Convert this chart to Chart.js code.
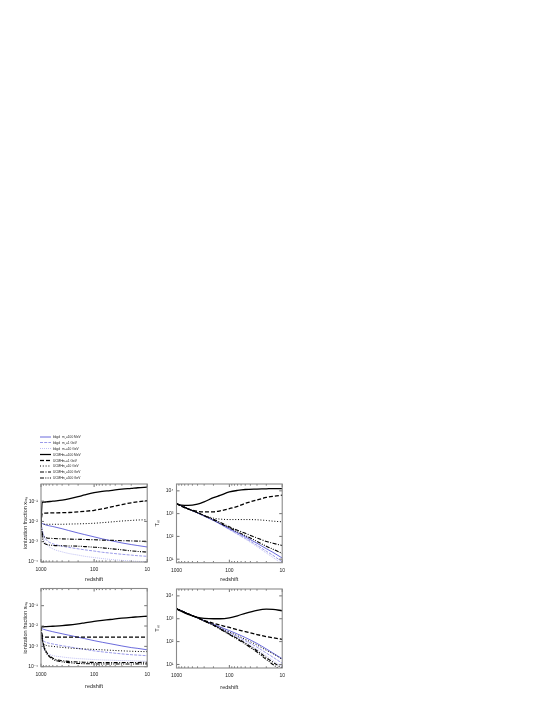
<!DOCTYPE html>
<html lang="en">

<head>
    <meta charset="UTF-8">
    <script src="https://cdn.jsdelivr.net/npm/chart.js"></script>
    <title>Ionization fraction and gas temperature vs redshift</title>
    <style>
        body { margin: 0; width: 545px; height: 705px; background: #fff; position: relative; overflow: hidden;
               font-family: "Liberation Sans", Arial, sans-serif; }
        canvas { position: absolute; }
        /* legend drawn larger then scaled down, so no minimum font size gets in the way */
        #legend { position: absolute; left: 40px; top: 433.5px; font-size: 6.4px; line-height: 11.7px; color: #222;
                  z-index: 2; transform: scale(0.5); transform-origin: 0 0; width: 120px; }
        .row { position: relative; height: 11.7px; white-space: nowrap; }
        .row svg { position: absolute; left: 0; top: 3.8px; }
        .row .who { position: absolute; left: 26px; top: 0; }
        .row .mass { position: absolute; left: 44px; top: 0; }
        .row sub { font-size: 5px; vertical-align: -1.5px; }
    </style>
</head>

<body>
    <canvas id="xionTop"></canvas>
    <canvas id="tmTop"></canvas>
    <canvas id="xionBot"></canvas>
    <canvas id="tmBot"></canvas>
    <div id="legend"></div>

    <script>
        // redshift samples (x axis)
        const redshift = [1000, 950, 900, 800, 600, 400, 300, 200, 150, 100, 70, 50, 30, 20, 15, 10];

        // upper left panel: log10 of ionization fraction
        const xionTopBkgd100MeV = [-2.05, -2.1, -2.13, -2.18, -2.25, -2.36, -2.45, -2.57, -2.65, -2.76, -2.86, -2.94, -3.06, -3.14, -3.19, -3.26];
        const xionTopBkgd1GeV = [-2.05, -2.4, -2.65, -2.9, -3.1, -3.22, -3.28, -3.35, -3.4, -3.46, -3.52, -3.56, -3.62, -3.66, -3.69, -3.72];
        const xionTopBkgd10GeV = [-2.05, -2.5, -2.8, -3.1, -3.35, -3.5, -3.58, -3.66, -3.72, -3.78, -3.83, -3.87, -3.92, -3.95, -3.97, -3.99];
        const xionTopUcmh100MeV = [-2.1, -1.06, -1.05, -1.04, -1.0, -0.95, -0.89, -0.78, -0.69, -0.58, -0.52, -0.48, -0.41, -0.37, -0.34, -0.31];
        const xionTopUcmh1GeV = [-2.1, -1.62, -1.6, -1.59, -1.58, -1.57, -1.56, -1.53, -1.5, -1.45, -1.38, -1.3, -1.17, -1.08, -1.03, -0.97];
        const xionTopUcmh10GeV = [-2.1, -2.12, -2.13, -2.14, -2.14, -2.14, -2.13, -2.12, -2.11, -2.09, -2.06, -2.03, -1.98, -1.95, -1.93, -1.92];
        const xionTopUcmh100GeV = [-2.1, -2.55, -2.72, -2.8, -2.84, -2.86, -2.87, -2.88, -2.89, -2.9, -2.92, -2.93, -2.95, -2.96, -2.97, -2.98];
        const xionTopUcmh500GeV = [-2.1, -2.7, -3.0, -3.12, -3.18, -3.2, -3.21, -3.22, -3.24, -3.27, -3.3, -3.34, -3.4, -3.45, -3.48, -3.51];

        // upper right panel: log10 of gas temperature
        const tmTopBkgd100MeV = [3.44, 3.41, 3.39, 3.34, 3.21, 3.03, 2.9, 2.71, 2.56, 2.34, 2.16, 1.98, 1.7, 1.46, 1.3, 1.05];
        const tmTopBkgd1GeV = [3.44, 3.41, 3.39, 3.34, 3.21, 3.03, 2.89, 2.7, 2.54, 2.31, 2.11, 1.92, 1.61, 1.35, 1.17, 0.88];
        const tmTopBkgd10GeV = [3.44, 3.41, 3.39, 3.34, 3.21, 3.03, 2.89, 2.69, 2.53, 2.29, 2.08, 1.88, 1.55, 1.27, 1.08, 0.78];
        const tmTopUcmh100MeV = [3.44, 3.42, 3.4, 3.37, 3.36, 3.42, 3.52, 3.7, 3.8, 3.95, 4.02, 4.06, 4.08, 4.09, 4.1, 4.1];
        const tmTopUcmh1GeV = [3.44, 3.41, 3.38, 3.32, 3.2, 3.1, 3.08, 3.08, 3.12, 3.22, 3.32, 3.45, 3.6, 3.71, 3.76, 3.81];
        const tmTopUcmh10GeV = [3.44, 3.41, 3.39, 3.34, 3.21, 3.04, 2.93, 2.8, 2.76, 2.74, 2.74, 2.74, 2.73, 2.7, 2.67, 2.64];
        const tmTopUcmh100GeV = [3.44, 3.41, 3.39, 3.34, 3.21, 3.04, 2.92, 2.75, 2.62, 2.42, 2.27, 2.14, 1.93, 1.78, 1.7, 1.6];
        const tmTopUcmh500GeV = [3.44, 3.41, 3.39, 3.34, 3.21, 3.04, 2.91, 2.72, 2.58, 2.38, 2.2, 2.04, 1.78, 1.57, 1.44, 1.25];

        // lower left panel: log10 of ionization fraction
        const xionBotBkgd100MeV = [-2.1, -2.13, -2.16, -2.2, -2.28, -2.38, -2.45, -2.55, -2.62, -2.72, -2.8, -2.87, -2.98, -3.06, -3.1, -3.17];
        const xionBotBkgd1GeV = [-2.1, -2.5, -2.7, -2.8, -2.88, -2.97, -3.02, -3.1, -3.15, -3.22, -3.27, -3.31, -3.37, -3.41, -3.43, -3.46];
        const xionBotBkgd10GeV = [-2.1, -2.8, -3.1, -3.3, -3.45, -3.52, -3.56, -3.6, -3.62, -3.65, -3.67, -3.68, -3.7, -3.71, -3.72, -3.73];
        const xionBotUcmh100MeV = [-2.05, -2.04, -2.04, -2.03, -2.01, -1.98, -1.95, -1.89, -1.84, -1.77, -1.72, -1.68, -1.61, -1.57, -1.55, -1.52];
        const xionBotUcmh1GeV = [-2.05, -2.45, -2.53, -2.55, -2.55, -2.55, -2.55, -2.55, -2.55, -2.55, -2.55, -2.55, -2.55, -2.55, -2.55, -2.55];
        const xionBotUcmh10GeV = [-2.05, -2.6, -2.85, -2.95, -3.0, -3.05, -3.08, -3.11, -3.13, -3.15, -3.17, -3.19, -3.22, -3.24, -3.25, -3.26];
        const xionBotUcmh100GeV = [-2.05, -2.6, -2.9, -3.25, -3.58, -3.7, -3.74, -3.77, -3.78, -3.79, -3.8, -3.8, -3.8, -3.79, -3.79, -3.78];
        const xionBotUcmh500GeV = [-2.05, -2.65, -2.95, -3.3, -3.63, -3.76, -3.8, -3.84, -3.85, -3.86, -3.87, -3.87, -3.87, -3.87, -3.86, -3.86];

        // lower right panel: log10 of gas temperature
        const tmBotBkgd100MeV = [3.44, 3.41, 3.39, 3.34, 3.21, 3.04, 2.92, 2.76, 2.64, 2.48, 2.33, 2.18, 1.92, 1.68, 1.5, 1.25];
        const tmBotBkgd1GeV = [3.44, 3.41, 3.39, 3.34, 3.21, 3.04, 2.91, 2.74, 2.59, 2.39, 2.21, 2.04, 1.76, 1.5, 1.32, 1.05];
        const tmBotBkgd10GeV = [3.44, 3.41, 3.39, 3.34, 3.21, 3.04, 2.9, 2.73, 2.57, 2.35, 2.16, 1.97, 1.66, 1.38, 1.18, 0.9];
        const tmBotUcmh100MeV = [3.44, 3.41, 3.38, 3.32, 3.19, 3.06, 3.02, 3.0, 3.0, 3.04, 3.13, 3.24, 3.37, 3.42, 3.41, 3.35];
        const tmBotUcmh1GeV = [3.44, 3.41, 3.39, 3.34, 3.21, 3.05, 2.93, 2.8, 2.72, 2.62, 2.52, 2.44, 2.31, 2.22, 2.17, 2.1];
        const tmBotUcmh10GeV = [3.44, 3.41, 3.39, 3.34, 3.21, 3.04, 2.91, 2.74, 2.6, 2.42, 2.26, 2.1, 1.85, 1.62, 1.47, 1.22];
        const tmBotUcmh100GeV = [3.44, 3.41, 3.39, 3.34, 3.21, 3.04, 2.9, 2.72, 2.56, 2.33, 2.13, 1.93, 1.6, 1.3, 1.1, 0.84];
        const tmBotUcmh500GeV = [3.44, 3.41, 3.39, 3.34, 3.21, 3.04, 2.9, 2.72, 2.55, 2.31, 2.1, 1.89, 1.54, 1.22, 1.0, 0.72];

        const xTicks = [1000, 100, 10];
        const whoLabels = ['bkgd', 'bkgd', 'bkgd', 'UCMH', 'UCMH', 'UCMH', 'UCMH', 'UCMH'];
        const massLabels = ['100 MeV', '1 GeV', '10 GeV', '100 MeV', '1 GeV', '10 GeV', '100 GeV', '500 GeV'];

        // line styles, same order as the legend
        const styles = [
            { color: '#5a5ad8', width: 0.9, dash: [] },
            { color: '#8e8ee6', width: 0.9, dash: [3, 1.2] },
            { color: '#b9b9f2', width: 0.9, dash: [1, 1] },
            { color: '#000', width: 1.3, dash: [] },
            { color: '#000', width: 1.3, dash: [4, 2] },
            { color: '#000', width: 1.0, dash: [1, 1.8] },
            { color: '#000', width: 1.1, dash: [4, 1.5, 1, 1.5] },
            { color: '#000', width: 1.1, dash: [4, 1.3, 1, 1.3, 1, 1.3] },
        ];

        const sup = { '-': '\u207B', '0': '\u2070', '1': '\u00B9', '2': '\u00B2', '3': '\u00B3', '4': '\u2074' };
        const powLabel = v => '10' + String(Math.round(Math.log10(v))).split('').map(c => sup[c]).join('');

        // inward gnuplot-like ticks and grey frame
        const frameTicks = {
            id: 'frameTicks',
            afterDatasetsDraw(chart) {
                const { ctx, chartArea: a, scales: { x, y } } = chart;
                ctx.save();
                ctx.strokeStyle = '#333';
                ctx.lineWidth = 0.7;
                ctx.beginPath();
                for (let d = 1; d <= 3; d++) {
                    for (let m = 1; m <= 9; m++) {
                        const v = m * Math.pow(10, d);
                        if (v < 10 || v > 1000) continue;
                        const px = x.getPixelForValue(v);
                        const len = m === 1 ? 3 : 1.6;
                        ctx.moveTo(px, a.bottom); ctx.lineTo(px, a.bottom - len);
                        ctx.moveTo(px, a.top); ctx.lineTo(px, a.top + len);
                    }
                }
                y.ticks.forEach(t => {
                    const py = y.getPixelForValue(t.value);
                    ctx.moveTo(a.left, py); ctx.lineTo(a.left + 3, py);
                    ctx.moveTo(a.right, py); ctx.lineTo(a.right - 3, py);
                });
                ctx.stroke();
                ctx.strokeStyle = '#8a8a8a';
                ctx.lineWidth = 1.1;
                ctx.strokeRect(a.left, a.top, a.right - a.left, a.bottom - a.top);
                ctx.restore();
            }
        };

        function makePanel(id, box, series, yMin, yMax, yTicks, yTitle, lay) {
            const el = document.getElementById(id);
            el.style.left = box[0] + 'px';
            el.style.top = box[1] + 'px';
            el.width = box[2];
            el.height = box[3];
            const datasets = series.map((s, i) => ({
                data: redshift.map((z, k) => ({ x: z, y: Math.pow(10, s[k]) })),
                borderColor: styles[i].color,
                borderWidth: styles[i].width,
                borderDash: styles[i].dash,
                pointRadius: 0,
                cubicInterpolationMode: 'monotone',
                order: i < 3 ? 1 : 0
            }));
            const font = { family: '"Liberation Sans", Arial, sans-serif', size: 5 };
            new Chart(el, {
                type: 'line',
                data: { datasets },
                options: {
                    responsive: false,
                    animation: false,
                    events: [],
                    layout: { padding: { top: lay.top, right: lay.right, left: 0, bottom: 0 } },
                    plugins: { legend: { display: false }, tooltip: { enabled: false } },
                    scales: {
                        x: {
                            type: 'logarithmic',
                            reverse: true,
                            min: 10,
                            max: 1000,
                            afterBuildTicks: s => { s.ticks = xTicks.map(v => ({ value: v })); },
                            afterFit: s => { s.height = lay.xh; },
                            grid: { display: false, drawTicks: false },
                            border: { display: false },
                            ticks: { font, color: '#222', padding: 5, maxRotation: 0, callback: v => String(v) },
                            title: { display: true, text: 'redshift', font: { ...font, size: 5.5 }, color: '#222',
                                     padding: { top: 0, bottom: lay.tb } }
                        },
                        y: {
                            type: 'logarithmic',
                            min: yMin,
                            max: yMax,
                            afterBuildTicks: s => { s.ticks = yTicks.map(v => ({ value: v })); },
                            afterFit: s => { s.width = lay.yw; },
                            grid: { display: false, drawTicks: false },
                            border: { display: false },
                            ticks: { font, color: '#222', padding: 3, callback: v => powLabel(v) },
                            title: { display: true, text: yTitle, font: { ...font, size: 5.5 }, color: '#222',
                                     padding: { top: lay.tl, bottom: 0 } }
                        }
                    }
                },
                plugins: [frameTicks]
            });
        }

        const xionTicks = [1e-4, 1e-3, 1e-2, 1e-1];
        const tmTicks = [10, 100, 1000, 10000];
        const xionTitle = 'ionization fraction x\u1D62\u2092\u2099';
        const tmTitle = 'T\u2098';

        makePanel('xionTop', [20, 478, 135, 110],
            [xionTopBkgd100MeV, xionTopBkgd1GeV, xionTopBkgd10GeV, xionTopUcmh100MeV, xionTopUcmh1GeV, xionTopUcmh10GeV, xionTopUcmh100GeV, xionTopUcmh500GeV],
            1e-4, 0.7, xionTicks, xionTitle, { top: 6, right: 7, xh: 26, yw: 21, tb: 5, tl: 2 });
        makePanel('tmTop', [150, 478, 140, 110],
            [tmTopBkgd100MeV, tmTopBkgd1GeV, tmTopBkgd10GeV, tmTopUcmh100MeV, tmTopUcmh1GeV, tmTopUcmh10GeV, tmTopUcmh100GeV, tmTopUcmh500GeV],
            7, 2e4, tmTicks, tmTitle, { top: 6, right: 6, xh: 25.3, yw: 26.5, tb: 5, tl: 4 });
        makePanel('xionBot', [20, 582, 135, 110],
            [xionBotBkgd100MeV, xionBotBkgd1GeV, xionBotBkgd10GeV, xionBotUcmh100MeV, xionBotUcmh1GeV, xionBotUcmh10GeV, xionBotUcmh100GeV, xionBotUcmh500GeV],
            1e-4, 0.7, xionTicks, xionTitle, { top: 6.5, right: 7, xh: 25.3, yw: 21, tb: 2, tl: 2 });
        makePanel('tmBot', [150, 583, 140, 110],
            [tmBotBkgd100MeV, tmBotBkgd1GeV, tmBotBkgd10GeV, tmBotUcmh100MeV, tmBotUcmh1GeV, tmBotUcmh10GeV, tmBotUcmh100GeV, tmBotUcmh500GeV],
            7, 2e4, tmTicks, tmTitle, { top: 6, right: 6, xh: 25, yw: 26.5, tb: 2, tl: 4 });

        // legend above the upper left panel
        const legend = document.getElementById('legend');
        styles.forEach((s, i) => {
            const row = document.createElement('div');
            row.className = 'row';
            row.innerHTML =
                '<svg width="22" height="4"><line x1="0" y1="2" x2="22" y2="2" stroke="' + s.color +
                '" stroke-width="' + (s.width / 0.5) + '" stroke-dasharray="' +
                (s.dash.length ? s.dash.map(d => d / 0.5).join(',') : 'none') + '"/></svg>' +
                '<span class="who">' + whoLabels[i] + '</span>' +
                '<span class="mass">m<sub>\u03C7</sub>=' + massLabels[i] + '</span>';
            legend.appendChild(row);
        });
    </script>
</body>

</html>
